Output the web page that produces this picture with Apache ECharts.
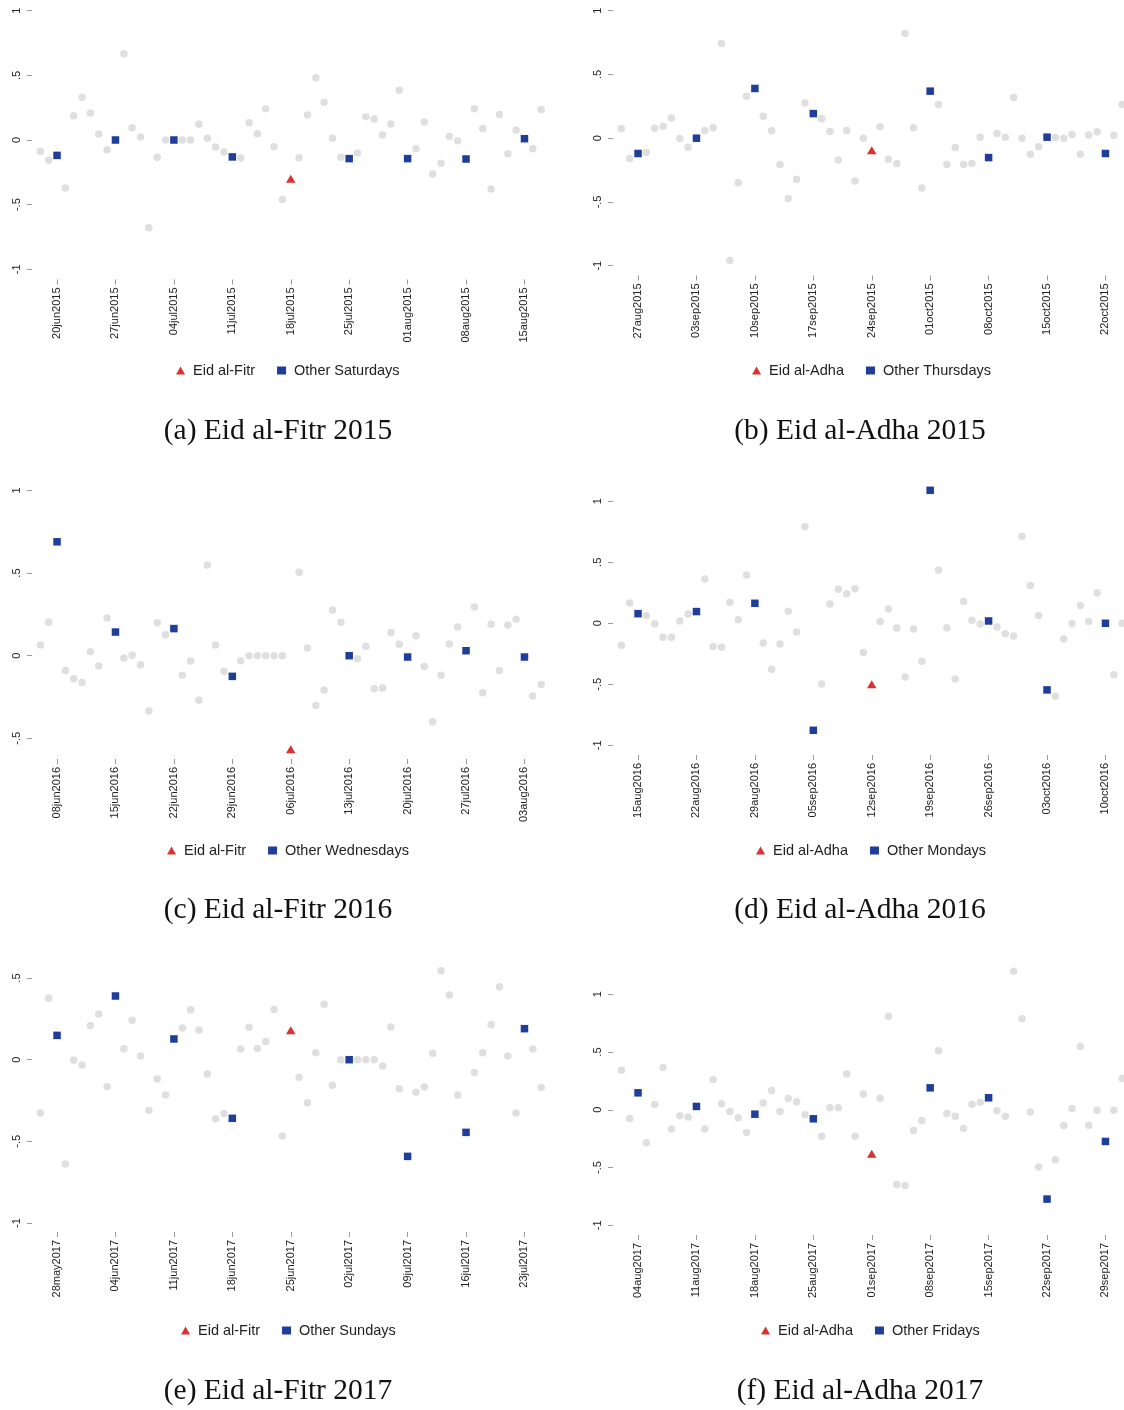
<!DOCTYPE html>
<html>
<head>
<meta charset="utf-8">
<script src="https://cdn.jsdelivr.net/npm/echarts@6.0.0/dist/echarts.min.js"></script>
<style>
  html, body { margin: 0; padding: 0; background: #ffffff; }
  #chart { width: 1124px; height: 1410px; }
</style>
</head>
<body>
<div id="chart"></div>
<script>
// Daily values for the 61 days centred on each Eid (index 30 is the Eid day itself).
const fitr2015Values = [
  -0.088, -0.157, -0.119, -0.371, 0.188, 0.330, 0.209, 0.046, -0.075, 0.000,
  0.668, 0.095, 0.023, -0.678, -0.134, 0.000, 0.000, 0.000, 0.000, 0.121,
  0.013, -0.054, -0.093, -0.131, -0.139, 0.134, 0.049, 0.242, -0.052, -0.461,
  -0.300, -0.137, 0.193, 0.482, 0.291, 0.013, -0.134, -0.144, -0.100, 0.180,
  0.162, 0.039, 0.124, 0.384, -0.144, -0.067, 0.139, -0.263, -0.180, 0.028,
  -0.005, -0.147, 0.242, 0.088, -0.379, 0.198, -0.106, 0.077, 0.010, -0.067,
  0.235
];
const adha2015Values = [
  0.076, -0.159, -0.120, -0.112, 0.078, 0.094, 0.159, -0.003, -0.071, 0.000,
  0.060, 0.081, 0.742, -0.959, -0.350, 0.329, 0.390, 0.173, 0.058, -0.207,
  -0.473, -0.322, 0.277, 0.193, 0.152, 0.052, -0.170, 0.060, -0.335, 0.000,
  -0.095, 0.089, -0.165, -0.199, 0.821, 0.081, -0.390, 0.369, 0.264, -0.207,
  -0.073, -0.207, -0.199, 0.008, -0.152, 0.037, 0.008, 0.319, 0.000, -0.125,
  -0.068, 0.008, 0.005, 0.000, 0.029, -0.125, 0.026, 0.050, -0.120, 0.024,
  0.264
];
const fitr2016Values = [
  0.065, 0.202, 0.689, -0.089, -0.139, -0.162, 0.024, -0.063, 0.228, 0.143,
  -0.014, 0.002, -0.055, -0.335, 0.200, 0.127, 0.164, -0.119, -0.032, -0.269,
  0.549, 0.065, -0.095, -0.125, -0.030, 0.000, 0.000, 0.000, 0.000, 0.000,
  -0.566, 0.505, 0.046, -0.301, -0.208, 0.277, 0.202, 0.000, -0.018, 0.057,
  -0.200, -0.196, 0.141, 0.069, -0.008, 0.121, -0.065, -0.400, -0.119, 0.071,
  0.174, 0.030, 0.295, -0.224, 0.190, -0.089, 0.186, 0.220, -0.008, -0.244,
  -0.174
];
const adha2016Values = [
  -0.180, 0.167, 0.079, 0.063, -0.003, -0.115, -0.115, 0.019, 0.077, 0.096,
  0.363, -0.191, -0.197, 0.172, 0.030, 0.396, 0.164, -0.161, -0.377, -0.169,
  0.098, -0.071, 0.792, -0.877, -0.497, 0.158, 0.279, 0.243, 0.284, -0.240,
  -0.500, 0.014, 0.117, -0.038, -0.440, -0.046, -0.311, 1.090, 0.434, -0.036,
  -0.456, 0.178, 0.025, -0.005, 0.019, -0.030, -0.085, -0.104, 0.713, 0.309,
  0.063, -0.546, -0.598, -0.128, -0.003, 0.145, 0.014, 0.249, 0.000, -0.421,
  0.000
];
const fitr2017Values = [
  -0.327, 0.376, 0.149, -0.639, -0.004, -0.033, 0.210, 0.280, -0.165, 0.390,
  0.067, 0.241, 0.022, -0.310, -0.118, -0.216, 0.127, 0.194, 0.306, 0.182,
  -0.088, -0.361, -0.331, -0.359, 0.065, 0.198, 0.069, 0.112, 0.308, -0.467,
  0.180, -0.108, -0.263, 0.043, 0.339, -0.157, 0.000, 0.000, 0.000, 0.000,
  0.000, -0.039, 0.200, -0.178, -0.592, -0.200, -0.167, 0.039, 0.545, 0.396,
  -0.216, -0.445, -0.078, 0.043, 0.214, 0.447, 0.022, -0.327, 0.190, 0.065,
  -0.171
];
const adha2017Values = [
  0.343, -0.075, 0.147, -0.286, 0.046, 0.367, -0.167, -0.052, -0.063, 0.029,
  -0.167, 0.263, 0.052, -0.014, -0.069, -0.196, -0.038, 0.058, 0.167, -0.014,
  0.098, 0.069, -0.043, -0.078, -0.228, 0.017, 0.017, 0.309, -0.228, 0.136,
  -0.380, 0.101, 0.811, -0.646, -0.655, -0.179, -0.092, 0.190, 0.511, -0.032,
  -0.055, -0.162, 0.049, 0.066, 0.104, -0.009, -0.055, 1.200, 0.788, -0.020,
  -0.496, -0.773, -0.433, -0.136, 0.012, 0.548, -0.133, -0.003, -0.274, -0.003,
  0.271
];

// Weekly date labels (same weekday as the Eid, 28 days either side).
const fitr2015Ticks = ['20jun2015', '27jun2015', '04jul2015', '11jul2015', '18jul2015', '25jul2015', '01aug2015', '08aug2015', '15aug2015'];
const adha2015Ticks = ['27aug2015', '03sep2015', '10sep2015', '17sep2015', '24sep2015', '01oct2015', '08oct2015', '15oct2015', '22oct2015'];
const fitr2016Ticks = ['08jun2016', '15jun2016', '22jun2016', '29jun2016', '06jul2016', '13jul2016', '20jul2016', '27jul2016', '03aug2016'];
const adha2016Ticks = ['15aug2016', '22aug2016', '29aug2016', '05sep2016', '12sep2016', '19sep2016', '26sep2016', '03oct2016', '10oct2016'];
const fitr2017Ticks = ['28may2017', '04jun2017', '11jun2017', '18jun2017', '25jun2017', '02jul2017', '09jul2017', '16jul2017', '23jul2017'];
const adha2017Ticks = ['04aug2017', '11aug2017', '18aug2017', '25aug2017', '01sep2017', '08sep2017', '15sep2017', '22sep2017', '29sep2017'];

// Vertical axis ticks and their labels.
const yTicksFull = [-1, -0.5, 0, 0.5, 1];
const yTicksUpper = [-0.5, 0, 0.5, 1];
const yTicksLower = [-1, -0.5, 0, 0.5];
const yTickText = { '-1': '-1', '-0.5': '-.5', '0': '0', '0.5': '.5', '1': '1' };

// Legend entries and captions.
const eidNames = ['Eid al-Fitr', 'Eid al-Adha', 'Eid al-Fitr', 'Eid al-Adha', 'Eid al-Fitr', 'Eid al-Adha'];
const otherNames = ['Other Saturdays', 'Other Thursdays', 'Other Wednesdays', 'Other Mondays', 'Other Sundays', 'Other Fridays'];
const captions = ['(a) Eid al-Fitr 2015', '(b) Eid al-Adha 2015', '(c) Eid al-Fitr 2016', '(d) Eid al-Adha 2016', '(e) Eid al-Fitr 2017', '(f) Eid al-Adha 2017'];

const panelValues = [fitr2015Values, adha2015Values, fitr2016Values, adha2016Values, fitr2017Values, adha2017Values];
const panelTicks = [fitr2015Ticks, adha2015Ticks, fitr2016Ticks, adha2016Ticks, fitr2017Ticks, adha2017Ticks];
const panelYTicks = [yTicksFull, yTicksFull, yTicksUpper, yTicksFull, yTicksLower, yTicksFull];

// Page geometry of each panel: zero line, pixels per unit, x-axis line and top of plot.
const layout = [
  { left: 32,  zero: 140.0,  unit: 129.3, axisY: 279.5, topY: 2,   legendX: 176, legendY: 370,  capX: 278, capY: 431 },
  { left: 613, zero: 138.2,  unit: 127.5, axisY: 275.5, topY: 2,   legendX: 752, legendY: 370,  capX: 860, capY: 431 },
  { left: 32,  zero: 655.7,  unit: 165.3, axisY: 759.0, topY: 482, legendX: 167, legendY: 850,  capX: 278, capY: 910 },
  { left: 613, zero: 623.3,  unit: 122.0, axisY: 755.0, topY: 482, legendX: 756, legendY: 850,  capX: 860, capY: 910 },
  { left: 32,  zero: 1059.7, unit: 163.3, axisY: 1232,  topY: 962, legendX: 181, legendY: 1330, capX: 278, capY: 1391 },
  { left: 613, zero: 1109.8, unit: 115.5, axisY: 1235,  topY: 962, legendX: 761, legendY: 1330, capX: 860, capY: 1391 }
];

const SANS = '"Liberation Sans", Arial, Helvetica, sans-serif';
const SERIF = '"Liberation Serif", "Times New Roman", serif';
const GREY = '#dfdfdf';
const BLUE = '#1f3d9a';
const RED = '#d83232';
const TICK_DAYS = [-28, -21, -14, -7, 0, 7, 14, 21, 28];

const grids = [], xAxes = [], yAxes = [], series = [], legends = [], titles = [];

panelValues.forEach((vals, p) => {
  const L = layout[p];
  const yMin = (L.zero - L.axisY) / L.unit;
  const yMax = (L.zero - L.topY) / L.unit;

  grids.push({
    left: L.left, top: L.topY, width: 517.5, height: L.axisY - L.topY,
    containLabel: false, outerBoundsMode: 'none'
  });

  const ticks = panelTicks[p];
  xAxes.push({
    type: 'value', gridIndex: p, min: -31, max: 31,
    axisLine: { show: false, onZero: false }, splitLine: { show: false },
    axisTick: { show: true, length: 5, customValues: TICK_DAYS, lineStyle: { color: '#9a9a9a', width: 1 } },
    axisLabel: {
      customValues: TICK_DAYS, rotate: 90, margin: 8,
      fontFamily: SANS, fontSize: 11, color: '#222',
      formatter: v => ticks[Math.round((v + 28) / 7)]
    }
  });

  const yt = panelYTicks[p];
  yAxes.push({
    type: 'value', gridIndex: p, min: yMin, max: yMax,
    axisLine: { show: false, onZero: false }, splitLine: { show: false },
    axisTick: { show: true, length: 5, customValues: yt, lineStyle: { color: '#9a9a9a', width: 1 } },
    axisLabel: {
      customValues: yt, rotate: 90, margin: 10,
      fontFamily: SANS, fontSize: 11, color: '#222',
      formatter: v => yTickText[String(Math.round(v * 2) / 2)]
    }
  });

  // Split the days into the Eid, the other same-weekday days and the rest.
  const rest = [], sameDay = [], eid = [];
  vals.forEach((v, i) => {
    const d = i - 30;
    if (d === 0) eid.push([d, v]);
    else if (d % 7 === 0) sameDay.push([d, v]);
    else rest.push([d, v]);
  });

  series.push({
    type: 'scatter', xAxisIndex: p, yAxisIndex: p, data: rest, clip: false, silent: true,
    symbol: 'circle', symbolSize: 7.5, itemStyle: { color: GREY, opacity: 1 }
  });
  series.push({
    name: otherNames[p], type: 'scatter', xAxisIndex: p, yAxisIndex: p, data: sameDay, clip: false, silent: true,
    symbol: 'rect', symbolSize: 7.5, itemStyle: { color: BLUE, opacity: 1 }
  });
  series.push({
    name: eidNames[p], type: 'scatter', xAxisIndex: p, yAxisIndex: p, data: eid, clip: false, silent: true,
    symbol: 'triangle', symbolSize: [9.5, 8], itemStyle: { color: RED, opacity: 1 }
  });

  legends.push({
    left: L.legendX, top: L.legendY - 7, orient: 'horizontal', selectedMode: false, padding: 0,
    itemWidth: 9, itemHeight: 8, itemGap: 22,
    data: [{ name: eidNames[p], icon: 'triangle' }, { name: otherNames[p], icon: 'rect' }],
    textStyle: { fontFamily: SANS, fontSize: 14.5, color: '#222', padding: [0, 0, 0, 3] }
  });

  titles.push({
    text: captions[p], left: L.capX, top: L.capY - 15, textAlign: 'center', padding: 0,
    textStyle: { fontFamily: SERIF, fontSize: 29.5, fontWeight: 'normal', color: '#111', lineHeight: 30 }
  });
});

const chart = echarts.init(document.getElementById('chart'), null, { renderer: 'canvas' });
chart.setOption({
  backgroundColor: '#ffffff',
  animation: false,
  title: titles,
  legend: legends,
  grid: grids,
  xAxis: xAxes,
  yAxis: yAxes,
  series: series
});
</script>
</body>
</html>
